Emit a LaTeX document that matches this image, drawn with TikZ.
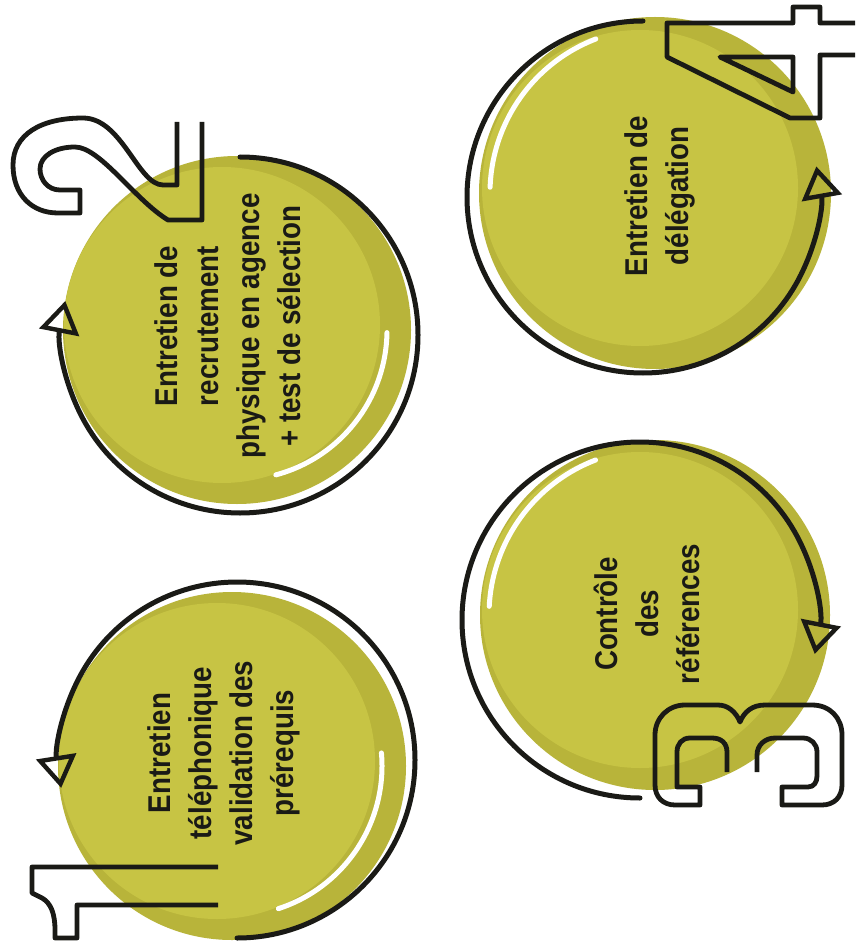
\documentclass[tikz,border=0pt]{standalone}
\usepackage{fontspec}
\setmainfont{Liberation Sans}[FakeStretch=0.88]
\usetikzlibrary{arrows.meta,calc}
\definecolor{ballc}{RGB}{199,196,68}
\definecolor{balldark}{RGB}{184,180,58}
\definecolor{ink}{RGB}{26,26,22}
\begin{document}
\begin{tikzpicture}[x=1pt,y=1pt,yscale=-1,
  ballnode/.style={circle,inner sep=0pt,minimum size=#1,fill=balldark,draw=none},
  loopline/.style={draw=ink,line width=5pt,line cap=round},
  endarrow/.style={-{Triangle[open,length=32pt,width=40pt,line width=4.4pt]}},
  digit/.style={draw=ink,line width=4.8pt,line join=round},
  shine/.style={draw=white,line width=5pt,line cap=round},
  txt/.style={rotate=90,align=center,inner sep=0pt,text=ink,
    font=\fontsize{31.5}{41}\selectfont\bfseries}]
\useasboundingbox (0,0) rectangle (855,949);
\fill[white] (0,0) rectangle (855,949);

% balls
\node[ballnode=348pt] (b1) at (232,766) {};
\node[ballnode=348pt] (b2) at (237,330) {};
\node[ballnode=350pt] (b3) at (655,615) {};
\node[ballnode=352pt] (b4) at (655,193) {};
\foreach \b in {b1,b2,b3,b4}
  \fill[ballc] ($(\b.center)+(-15,-5)$) circle[radius=158];

% highlights
\draw[shine] (b1.center) ++(-5:150) arc[start angle=-5,end angle=72,radius=150];
\draw[shine] (b2.center) ++(1:150) arc[start angle=1,end angle=75,radius=150];
\draw[shine] (b3.center) ++(183:166) arc[start angle=183,end angle=249,radius=166];
\draw[shine] (b4.center) ++(182:165) arc[start angle=182,end angle=249,radius=165];

% arc centres
\coordinate (a1) at (237,760);
\coordinate (a2) at (240,335);
\coordinate (a3) at (640,620);
\coordinate (a4) at (643,197);

\draw[loopline,endarrow] (a1) ++(90:178) arc[start angle=90,end angle=-189,radius=178];
\draw[loopline,endarrow] (a2) ++(-90:178) arc[start angle=-90,end angle=191,radius=178];
\draw[loopline,endarrow] (a3) ++(90:178) arc[start angle=90,end angle=371,radius=178];
\draw[loopline,endarrow] (a4) ++(270:176) arc[start angle=270,end angle=-10,radius=176];

% digit 1
\draw[digit] (218,867) -- (32,867) -- (32,893) -- (42,898)
  .. controls (51,903) and (55,914) .. (55,930) -- (55,938) -- (77,938) -- (77,905) -- (218,905);

% digit 2
\draw[digit] (177,122) -- (177,185) -- (163,185)
  .. controls (138,185) and (122,118) .. (83,118)
  .. controls (40,118) and (13,135) .. (13,165)
  .. controls (13,195) and (32,213) .. (58,213)
  -- (80,213) -- (80,190) -- (60,190)
  .. controls (48,190) and (40,180) .. (40,169)
  .. controls (40,156) and (55,147) .. (75,147)
  .. controls (100,147) and (135,200) .. (168,220)
  -- (202,220) -- (202,122);

% digit 3
\draw[digit] (727,772) -- (727,752) .. controls (727,743) and (721,738) .. (712,738)
  -- (690,738) .. controls (682,738) and (677,744) .. (677,752) -- (677,787) -- (700,787)
  -- (700,805) -- (675,805) .. controls (663,805) and (655,797) .. (655,785) -- (655,735)
  .. controls (655,718) and (668,705) .. (685,705) -- (718,705)
  .. controls (728,705) and (736,712) .. (740,722)
  .. controls (744,712) and (752,705) .. (765,705) -- (812,705)
  .. controls (830,705) and (842,718) .. (842,735) -- (842,785)
  .. controls (842,797) and (834,805) .. (822,805) -- (782,805) -- (782,787) -- (808,787)
  .. controls (814,787) and (817,782) .. (817,776) -- (817,752)
  .. controls (817,744) and (811,738) .. (803,738) -- (775,738)
  .. controls (765,738) and (757,745) .. (757,755) -- (757,772);

% digit 4
\draw[digit] (855,23) -- (820,23) -- (820,7) -- (793,7) -- (793,23) -- (667,23) -- (667,57)
  -- (790,118) -- (820,118) -- (820,55) -- (855,55);
\draw[digit] (720,57) -- (793,57) -- (793,92) -- cycle;

% texts
\node[txt] (t1) at (224,753) {Entretien\\téléphonique\\validation des\\prérequis};
\node[txt] (t2) at (228,326) {Entretien de\\recrutement\\physique en agence\\+ test de sélection};
\node[txt] (t3) at (647,614) {Contrôle\\des\\références};
\node[txt] (t4) at (660,196) {Entretien de\\délégation};
\end{tikzpicture}
\end{document}
